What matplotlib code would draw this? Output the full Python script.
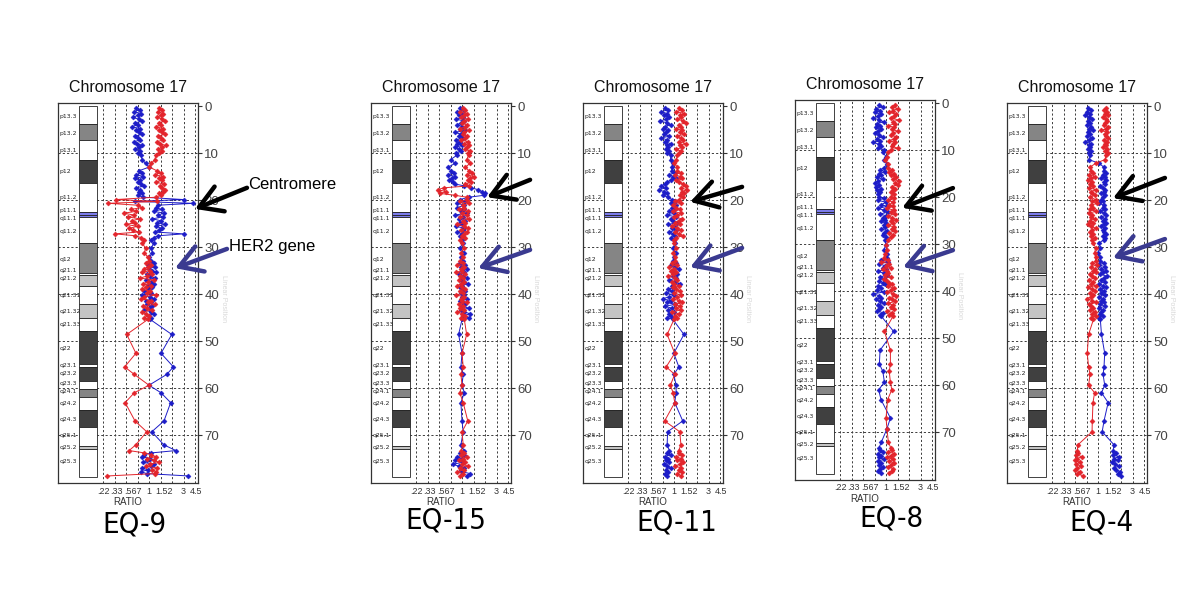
import matplotlib
matplotlib.use('Agg')
import matplotlib.pyplot as plt
from matplotlib.patches import Rectangle
from matplotlib import font_manager as fm

plt.rcParams['font.family'] = ['Liberation Sans', 'DejaVu Sans']

# ---------------- data ----------------
panel_names = ['EQ-9', 'EQ-15', 'EQ-11', 'EQ-8', 'EQ-4']

# clone positions along chromosome 17 (Mb)
positions = [0.4, 0.8, 1.2, 1.6, 2.0, 2.4, 2.8, 3.2, 3.6, 4.0, 4.4, 4.8, 5.2, 5.6, 6.0, 6.4,
             6.8, 7.2, 7.6, 8.0, 8.4, 8.8, 9.2, 9.6, 10.0, 10.4,
             11.4, 12.2, 13.0,
             13.8, 14.2, 14.6, 15.0, 15.4, 15.8, 16.2, 16.6, 17.0, 17.4, 17.8, 18.2, 18.6, 19.0, 19.4,
             19.9, 20.3, 20.7, 21.1,
             21.6, 22.0, 22.4, 22.8, 23.2, 23.6, 24.0, 24.4, 24.8, 25.2, 25.6, 26.0, 26.4, 26.8,
             27.2, 27.6, 28.0, 28.4,
             29.2, 30.2, 31.2, 32.2,
             33.0, 33.4, 33.8, 34.2, 34.6, 35.0, 35.4, 35.8, 36.2, 36.6, 37.0, 37.4, 37.8, 38.2,
             38.6, 39.0, 39.4, 39.8, 40.2, 40.6, 41.0, 41.4, 41.8, 42.2, 42.6, 43.0, 43.4, 43.8,
             44.2, 44.6, 45.0, 45.4,
             48.6, 52.6, 55.5, 57.1, 59.4, 61.0, 63.1, 67.0, 69.3, 72.1, 73.3,
             73.8, 74.2, 74.6, 75.0, 75.4, 75.8, 76.2, 76.6, 77.0, 77.4, 77.8, 78.2, 78.7]

# log2 ratios, red (test) and blue (dye swap) for each case
red_eq9 = [0.45, 0.55, 0.38, 0.62, 0.5, 0.35, 0.58, 0.7, 0.42, 0.52, 0.3, 0.6, 0.45, 0.55, 0.68, 0.4,
           0.5, 0.62, 0.35, 0.48, 0.72, 0.55, 0.4, 0.58, 0.45, 0.3,
           0.25, 0.1, 0.02,
           0.35, 0.5, 0.28, 0.6, 0.42, 0.55, 0.3, 0.65, 0.48, 0.58, 0.7, 0.62, 0.45, 0.5, 0.3,
           -1.45, 0.35, -1.77, -0.5,
           -0.3, -0.8, -0.55, -1.1, -0.65, -0.9, -0.4, -0.75, -0.6, -1.0, -0.5, -0.85, -0.7, -0.45,
           -1.48, -0.6, -0.35, -0.2,
           -0.3, -0.15, -0.2, -0.05,
           0.0, -0.15, 0.1, -0.05, -0.2, 0.05, -0.3, 0.15, -0.1, -0.4, 0.2, -0.05, -0.25, 0.1,
           -0.15, -0.3, 0.05, -0.1, 0.3, -0.2, -0.35, 0.1, -0.05, 0.25, -0.25, -0.1, 0.15, -0.3,
           -0.15, 0.0, -0.2, -0.05,
           -0.97, -0.57, -1.06, -0.64, 0.0, -0.64, -1.04, -0.61, -0.1, -0.58, -0.87,
           -0.2, 0.1, 0.3, -0.1, 0.2, 0.45, 0.05, -0.15, 0.35, 0.15, 0.3, 0.25, -1.81]
blue_eq9 = [-0.55, -0.4, -0.65, -0.35, -0.5, -0.7, -0.45, -0.3, -0.6, -0.5, -0.75, -0.4, -0.55, -0.45,
            -0.3, -0.6, -0.5, -0.38, -0.65, -0.52, -0.3, -0.45, -0.6, -0.4, -0.5, -0.35,
            -0.3, -0.15, 0.0,
            -0.45, -0.3, -0.55, -0.25, -0.6, -0.4, -0.5, -0.35, -0.2, -0.55, -0.4, -0.45, -0.3, -0.5, -0.25,
            1.5, -0.6, 1.93, 0.4,
            0.3, 0.55, 0.2, 0.65, 0.4, 0.6, 0.15, 0.5, 0.35, 0.7, 0.3, 0.55, 0.45, 0.25,
            1.5, 0.4, 0.2, 0.1,
            0.2, 0.1, 0.15, 0.0,
            0.1, 0.2, -0.05, 0.25, 0.0, 0.15, 0.3, -0.1, 0.05, 0.25, -0.15, 0.1, 0.2, -0.05,
            0.15, 0.0, -0.2, 0.1, -0.3, 0.05, 0.2, -0.15, 0.1, -0.1, 0.15, 0.05, -0.2, 0.1,
            0.2, 0.0, 0.1, 0.05,
            0.99, 0.52, 1.06, 0.77, 0.0, 0.52, 0.94, 0.65, 0.12, 0.65, 1.17,
            0.1, -0.2, -0.3, 0.05, -0.1, -0.25, 0.2, 0.1, -0.3, -0.05, -0.35, -0.1, 1.71]

red_eq15 = [0.05, 0.15, -0.1, 0.2, 0.1, -0.05, 0.25, 0.1, 0.0, 0.2, 0.15, -0.1, 0.3, 0.1, 0.05, 0.2,
            0.15, -0.05, 0.25, 0.1, 0.3, 0.2, 0.15, 0.35, 0.25, 0.3,
            0.2, 0.35, 0.15,
            0.3, 0.45, 0.2, 0.5, 0.35, 0.25, 0.4, 0.15, 0.3, -0.8, -1.05, -0.7, -0.95, -0.3, 0.2,
            0.2, -0.1, 0.3, 0.05,
            0.1, -0.15, 0.25, 0.0, 0.2, -0.1, 0.3, 0.05, 0.15, -0.2, 0.1, 0.25, -0.05, 0.2,
            0.1, 0.0, 0.15, -0.1,
            0.0, 0.1, -0.05, 0.05,
            -0.1, 0.05, -0.2, 0.1, -0.05, 0.0, -0.25, 0.15, -0.1, 0.05, -0.15, 0.1, -0.05, -0.2,
            0.0, 0.15, -0.1, 0.05, -0.25, 0.1, -0.05, 0.0, 0.2, -0.15, 0.05, -0.1, 0.1, -0.2,
            0.0, 0.15, -0.05, 0.1,
            0.2, 0.0, 0.05, -0.05, 0.0, -0.1, 0.05, 0.25, 0.0, 0.05, -0.05,
            0.1, -0.05, 0.2, 0.05, -0.15, 0.15, 0.0, 0.25, -0.1, 0.1, -0.2, 0.05, -0.1]
blue_eq15 = [-0.1, 0.1, -0.2, 0.0, -0.15, 0.05, -0.25, 0.1, -0.05, -0.2, 0.0, -0.1, 0.15, -0.3,
             -0.05, -0.15, 0.05, -0.25, -0.1, -0.2, 0.0, -0.3, -0.15, -0.05, -0.25, -0.2,
             -0.5, -0.3, -0.6,
             -0.5, -0.35, -0.6, -0.3, -0.45, -0.55, -0.4, -0.3, 0.1, 0.4, 0.7, 0.85, 1.0, 0.95, 0.3,
             -0.1, 0.15, -0.2, 0.1,
             -0.2, 0.1, -0.05, 0.2, -0.3, 0.05, -0.15, 0.15, -0.1, 0.0, -0.25, 0.1, 0.05, -0.2,
             0.0, -0.1, 0.1, -0.05,
             0.05, -0.1, 0.1, -0.05,
             0.05, -0.1, 0.15, -0.05, 0.2, 0.0, 0.1, -0.15, 0.05, 0.2, -0.05, 0.1, 0.25, 0.0,
             -0.1, 0.05, 0.15, -0.05, 0.1, 0.0, 0.2, -0.1, 0.05, 0.15, 0.0, 0.3, -0.05, 0.1,
             0.35, 0.05, 0.3, 0.0,
             -0.15, 0.0, -0.05, 0.05, 0.0, 0.1, -0.05, 0.0, 0.05, -0.05, 0.1,
             -0.1, 0.1, -0.2, 0.0, -0.3, 0.05, -0.4, -0.15, 0.1, -0.05, 0.0, 0.35, 0.2]

red_eq11 = [0.2, 0.35, 0.1, 0.45, 0.25, 0.3, 0.15, 0.4, 0.5, 0.2, 0.3, 0.1, 0.35, 0.25, 0.45, 0.15,
            0.3, 0.4, 0.2, 0.5, 0.25, 0.35, 0.1, 0.3, 0.2, 0.15,
            0.1, 0.0, 0.15,
            0.15, 0.3, 0.05, 0.25, 0.35, 0.1, 0.2, 0.4, 0.5, 0.3, 0.55, 0.35, 0.45, 0.25, 0.4,
            0.2, 0.05, 0.3, -0.05,
            0.1, 0.25, -0.05, 0.3, 0.15, 0.0, 0.35, 0.2, 0.05, 0.25, -0.1, 0.15, 0.3, 0.05,
            0.2, 0.4, 0.1, 0.0,
            0.0, 0.1, -0.05, 0.05,
            0.05, -0.1, 0.15, -0.2, 0.0, -0.15, 0.1, -0.05, -0.25, 0.05, 0.15, -0.1, 0.0, 0.2,
            -0.05, 0.1, 0.25, 0.0, 0.3, 0.15, -0.05, 0.2, 0.35, 0.05, 0.25, 0.1, 0.3, -0.1,
            0.2, 0.05, 0.15, 0.0,
            -0.3, 0.03, -0.34, 0.03, -0.16, -0.04, 0.03, -0.41, 0.25, 0.3, 0.2,
            0.2, 0.35, 0.1, 0.3, 0.15, 0.4, 0.25, 0.05, 0.3, 0.2, 0.35, 0.15, 0.3]
blue_eq11 = [-0.4, -0.25, -0.55, -0.3, -0.45, -0.2, -0.35, -0.6, -0.3, -0.15, -0.4, -0.5, -0.25,
             -0.35, -0.45, -0.2, -0.55, -0.3, -0.4, -0.15, -0.3, -0.25, -0.35, -0.2, -0.3, -0.15,
             -0.15, -0.05, -0.1,
             -0.1, 0.05, -0.2, -0.05, 0.1, -0.15, -0.3, -0.4, -0.55, -0.35, -0.65, -0.45, -0.3, -0.5, -0.25,
             -0.1, 0.05, -0.15, 0.1,
             -0.1, 0.05, -0.2, 0.0, -0.3, 0.1, -0.15, -0.05, 0.15, -0.25, 0.0, -0.1, 0.1, -0.2,
             -0.05, 0.05, -0.15, 0.0,
             0.05, -0.05, 0.1, 0.0,
             -0.05, 0.1, -0.15, 0.05, 0.2, -0.1, 0.0, 0.15, -0.05, 0.1, -0.2, 0.05, 0.25, -0.1,
             0.0, -0.25, -0.1, -0.35, 0.0, -0.2, -0.5, -0.15, -0.3, 0.05, -0.4, -0.1, -0.25, 0.0,
             -0.2, -0.15, -0.3, -0.05,
             0.43, -0.01, 0.21, -0.01, 0.09, 0.09, 0.03, 0.38, -0.28, -0.3, -0.2,
             -0.3, -0.15, -0.4, -0.25, -0.35, -0.2, -0.45, -0.3, -0.15, -0.35, -0.25, -0.4, -0.3]

red_eq8 = [0.4, 0.25, 0.5, 0.3, 0.15, 0.45, 0.35, 0.2, 0.55, 0.3, 0.4, 0.1, 0.35, 0.25, 0.5, 0.3,
           0.2, 0.45, 0.35, 0.15, 0.4, 0.3, 0.25, 0.5, 0.2, 0.1,
           0.05, -0.05, 0.1,
           0.1, 0.25, 0.15, 0.35, 0.2, 0.45, 0.3, 0.55, 0.4, 0.5, 0.25, 0.4, 0.3, 0.2, 0.35,
           0.2, 0.35, 0.1, 0.3,
           0.15, 0.3, 0.05, 0.35, 0.2, 0.4, 0.1, 0.25, 0.45, 0.2, 0.3, 0.1, 0.35, 0.25,
           0.4, 0.15, 0.3, 0.2,
           0.1, 0.0, 0.05, -0.05,
           -0.1, 0.1, -0.2, 0.15, 0.0, 0.2, -0.15, 0.05, 0.1, -0.05, 0.2, -0.1, 0.05, 0.15,
           0.25, 0.1, 0.35, 0.2, 0.05, 0.3, 0.45, 0.15, 0.25, 0.4, 0.1, 0.3, 0.2, 0.35,
           0.05, 0.25, 0.15, 0.3,
           -0.07, 0.19, 0.19, 0.14, 0.19, 0.25, 0.07, 0.0, 0.04, 0.1, 0.2,
           0.25, 0.1, 0.35, 0.2, 0.05, 0.3, 0.15, 0.35, 0.2, 0.1, 0.3, 0.25, 0.15]
blue_eq8 = [-0.3, -0.15, -0.45, -0.25, -0.5, -0.2, -0.35, -0.55, -0.3, -0.1, -0.4, -0.25, -0.45,
            -0.2, -0.35, -0.5, -0.3, -0.15, -0.4, -0.25, -0.55, -0.3, -0.2, -0.35, -0.1, -0.15,
            0.0, -0.1, 0.05,
            -0.1, -0.25, -0.05, -0.3, -0.2, -0.4, -0.15, -0.35, -0.5, -0.3, -0.45, -0.2, -0.4, -0.25, -0.35,
            -0.3, -0.1, -0.35, 0.0,
            -0.2, 0.05, -0.35, -0.1, 0.1, -0.25, 0.0, -0.15, -0.05, -0.2, 0.0, -0.1, -0.05, -0.2,
            0.05, -0.1, -0.15, 0.0,
            -0.05, 0.0, -0.1, 0.05,
            0.05, -0.2, 0.1, -0.3, -0.05, -0.15, 0.0, -0.35, -0.1, 0.05, -0.25, -0.1, -0.3, -0.15,
            -0.05, -0.35, -0.2, -0.4, -0.1, -0.55, -0.3, -0.2, -0.45, -0.25, -0.1, -0.35, -0.2, -0.3,
            -0.4, -0.15, -0.25, -0.2,
            0.33, -0.26, -0.29, -0.14, -0.07, -0.32, -0.22, 0.19, 0.04, -0.2, -0.3,
            -0.25, -0.15, -0.35, -0.2, -0.3, -0.1, -0.35, -0.2, -0.3, -0.15, -0.25, -0.35, -0.2]

red_eq4 = [0.35, 0.25, 0.4, 0.3, 0.45, 0.2, 0.35, 0.4, 0.3, 0.25, 0.45, 0.35, 0.15, 0.4, 0.3, 0.35,
           0.45, 0.25, 0.4, 0.3, 0.35, 0.2, 0.4, 0.3, 0.45, 0.35,
           0.3, -0.1, -0.35,
           -0.3, -0.2, -0.4, -0.15, -0.3, -0.45, -0.25, -0.35, -0.2, -0.4, -0.1, -0.3, -0.25, -0.15, -0.35,
           -0.1, -0.25, -0.05, -0.3,
           -0.2, -0.35, -0.1, -0.4, -0.25, -0.3, -0.15, -0.35, -0.2, -0.45, -0.3, -0.1, -0.25, -0.35,
           -0.2, -0.3, -0.15, -0.25,
           -0.2, -0.1, -0.15, -0.1,
           -0.1, -0.25, -0.05, -0.3, -0.15, -0.2, -0.1, -0.35, -0.25, -0.15, -0.4, -0.2, -0.3, -0.1,
           -0.45, -0.25, -0.15, -0.35, -0.2, -0.3, -0.5, -0.25, -0.1, -0.4, -0.3, -0.2, -0.35, -0.15,
           -0.25, -0.1, -0.3, -0.2,
           -0.41, -0.47, -0.41, -0.35, -0.41, -0.15, -0.22, -0.25, -0.26, -0.88, -0.9,
           -0.85, -0.95, -0.7, -0.9, -1.0, -0.8, -0.95, -0.75, -0.9, -1.0, -0.8, -0.9, -0.65]
blue_eq4 = [-0.45, -0.3, -0.5, -0.35, -0.55, -0.4, -0.25, -0.45, -0.35, -0.5, -0.3, -0.4, -0.2,
            -0.45, -0.35, -0.5, -0.25, -0.4, -0.55, -0.3, -0.4, -0.35, -0.45, -0.3, -0.4, -0.35,
            -0.4, 0.05, 0.25,
            0.25, 0.35, 0.2, 0.3, 0.15, 0.35, 0.25, 0.3, 0.1, 0.2, 0.3, 0.25, 0.15, 0.3, 0.2,
            0.15, 0.2, 0.05, 0.25,
            0.2, 0.3, 0.1, 0.25, 0.35, 0.15, 0.3, 0.2, 0.35, 0.25, 0.15, 0.3, 0.2, 0.25,
            0.35, 0.2, 0.3, 0.25,
            0.05, 0.1, 0.0, 0.1,
            0.1, 0.25, 0.05, 0.3, 0.15, 0.35, 0.2, 0.1, 0.4, 0.25, 0.15, 0.3, 0.05, 0.2,
            0.35, 0.1, 0.25, 0.15, 0.3, 0.05, 0.2, 0.15, 0.25, 0.1, 0.3, 0.05, 0.2, 0.15,
            0.1, 0.2, 0.05, 0.1,
            0.15, 0.29, 0.26, 0.22, 0.29, 0.15, 0.44, 0.26, 0.18, 0.7, 0.65,
            0.8, 0.65, 0.9, 0.7, 0.85, 0.6, 0.75, 0.9, 0.7, 0.8, 0.95, 0.85, 1.0]

red_series = [red_eq9, red_eq15, red_eq11, red_eq8, red_eq4]
blue_series = [blue_eq9, blue_eq15, blue_eq11, blue_eq8, blue_eq4]

# cytoband ideogram: name, start, end, stain, label position
band_names = ['p13.3', 'p13.2', 'p13.1', 'p12', 'p11.2', 'p11.1', 'q11.1', 'q11.2', 'q12',
              'q21.1', 'q21.2', 'q21.31', 'q21.32', 'q21.33', 'q22', 'q23.1', 'q23.2', 'q23.3',
              'q24.1', 'q24.2', 'q24.3', 'q25.1', 'q25.2', 'q25.3']
band_start = [0.0, 3.9, 7.3, 11.4, 16.3, 22.6, 23.15, 23.7, 29.2, 35.6, 35.9, 38.2, 42.2, 45.2,
              47.9, 54.8, 55.6, 58.6, 60.1, 61.8, 64.7, 68.3, 72.3, 72.9]
band_end = [3.9, 7.3, 11.4, 16.3, 22.6, 23.15, 23.7, 29.2, 35.6, 35.9, 38.2, 42.2, 45.2, 47.9,
            54.8, 55.6, 58.6, 60.1, 61.8, 64.7, 68.3, 72.3, 72.9, 78.9]
band_stain = ['gneg', 'gpos50', 'gneg', 'gpos75', 'gneg', 'acen', 'acen', 'gneg', 'gpos50',
              'gneg', 'gpos25', 'gneg', 'gpos25', 'gneg', 'gpos75', 'gneg', 'gpos75', 'gneg',
              'gpos50', 'gneg', 'gpos75', 'gneg', 'gpos25', 'gneg']
band_label_y = [2.2, 5.9, 9.4, 14.0, 19.5, 22.3, 23.9, 26.7, 32.6, 35.0, 36.7, 40.3, 43.7,
                46.4, 51.5, 55.2, 57.0, 59.0, 60.7, 63.2, 66.6, 70.2, 72.6, 75.6]

ratio_labels = ['.22', '.33', '.567', '1', '1.52', '3', '4.5']
ratio_label_x = [-2.0, -1.43, -0.72, 0.0, 0.64, 1.5, 2.03]
ratio_grid = [-2.0, -1.5, -1.0, -0.5, 0.0, 0.5, 1.0, 1.5, 2.0]
mb_ticks = [0, 10, 20, 30, 40, 50, 60, 70]

# annotation arrows (data coords of each panel): (tail_x, tail_y, tip_x, tip_y)
centromere_arrows = [(4.26, 17.4, 2.0, 21.9), (2.96, 15.7, 1.09, 19.4), (2.96, 17.2, 0.70, 20.4),
                     (2.91, 18.1, 0.70, 22.3), (2.91, 15.3, 0.65, 19.6)]
her2_arrows = [(3.39, 30.4, 1.13, 34.5), (2.96, 30.6, 0.70, 34.5), (2.96, 30.2, 0.70, 34.3),
               (2.91, 31.3, 0.74, 34.9), (2.91, 28.3, 0.65, 32.3)]

# ---------------- layout / style ----------------
W, H = 1200, 594
panel_left = [58, 371, 583, 795, 1007]
panel_top = [103, 103, 103, 100, 103]
panel_bottom = [483, 483, 483, 480, 483]
label_centers = [(134, 525), (446, 521), (677, 523), (891, 519), (1101, 523)]

stain_color = {'gneg': 'white', 'gpos25': '#c4c4c4', 'gpos50': '#858585',
               'gpos75': '#404040', 'acen': '#7c7cea'}
RED = '#e3242b'
BLUE = '#1c1cc8'
ARROW_BLUE = '#3a3a90'
GRID = '#3c3c3c'

names = {f.name for f in fm.fontManager.ttflist}
if 'Liberation Sans Narrow' in names:
    big_font = dict(family='Liberation Sans Narrow')
else:
    big_font = dict(family='DejaVu Sans', fontstretch='condensed')

fig = plt.figure(figsize=(W / 100, H / 100), dpi=100)
fig.patch.set_facecolor('white')

for i in range(5):
    L = panel_left[i]
    top, bot = panel_top[i], panel_bottom[i]
    hpx = bot - top
    ax = fig.add_axes([L / W, 1 - bot / H, 140 / W, hpx / H])
    ax.set_xlim(-3.96, 2.13)
    ax.set_ylim(80.2, -0.64)

    for s in ax.spines.values():
        s.set_color('#333333')
        s.set_linewidth(0.9)

    # grid
    for g in ratio_grid:
        ax.axvline(g, color=GRID, lw=0.7, ls=(0, (2.2, 2.2)), zorder=1)
    for m in mb_ticks[1:]:
        ax.axhline(m, color=GRID, lw=0.7, ls=(0, (2.2, 2.2)), zorder=1)

    # ideogram
    for nm, b0, b1, st, ly in zip(band_names, band_start, band_end, band_stain, band_label_y):
        ax.add_patch(Rectangle((-3.04, b0), 0.78, b1 - b0, facecolor=stain_color[st],
                               edgecolor='#222222', lw=0.6, zorder=3))
        ax.text(-3.9, ly, nm, fontsize=4.4, color='#222222',
                ha='left', va='center', zorder=3, family='DejaVu Sans')

    # profiles
    ax.plot(blue_series[i], positions, color=BLUE, lw=0.7, marker='D', ms=2.6,
            mec=BLUE, mew=0.3, zorder=4)
    ax.plot(red_series[i], positions, color=RED, lw=0.7, marker='D', ms=2.6,
            mec=RED, mew=0.3, zorder=5)

    # axes ticks
    ax.set_xticks([])
    ax.set_yticks(mb_ticks)
    ax.yaxis.tick_right()
    ax.tick_params(axis='y', length=3, direction='out', labelsize=9.5,
                   labelcolor='#444444', color='#333333', pad=1.5)

    # ratio tick labels and axis title
    xt = ax.get_xaxis_transform()
    for xl, t in zip(ratio_label_x, ratio_labels):
        ax.text(xl, -8 / hpx, t, transform=xt, fontsize=6.4,
                color='#333333', ha='center', va='center')
    ax.text(-0.95, -19 / hpx, 'RATIO', transform=xt,
            fontsize=7, color='#333333', ha='center', va='center')

    ax.text(0.5, 1 + 16 / hpx, 'Chromosome 17', transform=ax.transAxes, fontsize=11.5,
            ha='center', va='center', color='#111111')
    ax.text(1 + 25 / 140, 41, 'Linear Position', transform=ax.get_yaxis_transform(),
            rotation=270, fontsize=5, color='#d8d8d8', ha='center', va='center')

    # arrows
    tx, ty, hx, hy = centromere_arrows[i]
    ax.annotate('', xy=(hx, hy), xytext=(tx, ty), annotation_clip=False,
                arrowprops=dict(arrowstyle='->,head_length=0.8,head_width=0.48',
                                color='black', lw=3.2, mutation_scale=20,
                                shrinkA=0, shrinkB=0))
    tx, ty, hx, hy = her2_arrows[i]
    ax.annotate('', xy=(hx, hy), xytext=(tx, ty), annotation_clip=False,
                arrowprops=dict(arrowstyle='->,head_length=0.8,head_width=0.48',
                                color=ARROW_BLUE, lw=3.2, mutation_scale=20,
                                shrinkA=0, shrinkB=0))
    if i == 0:
        ax.text(4.3, 16.8, 'Centromere', fontsize=12, ha='left', va='center',
                color='black', clip_on=False)
        ax.text(3.48, 29.8, 'HER2 gene', fontsize=12, ha='left', va='center',
                color='black', clip_on=False)

    cx, cy = label_centers[i]
    fig.text(cx / W, 1 - cy / H, panel_names[i], fontsize=21, ha='center', va='center',
             color='black', **big_font)

fig.savefig('out.png', dpi=100, facecolor='white')
